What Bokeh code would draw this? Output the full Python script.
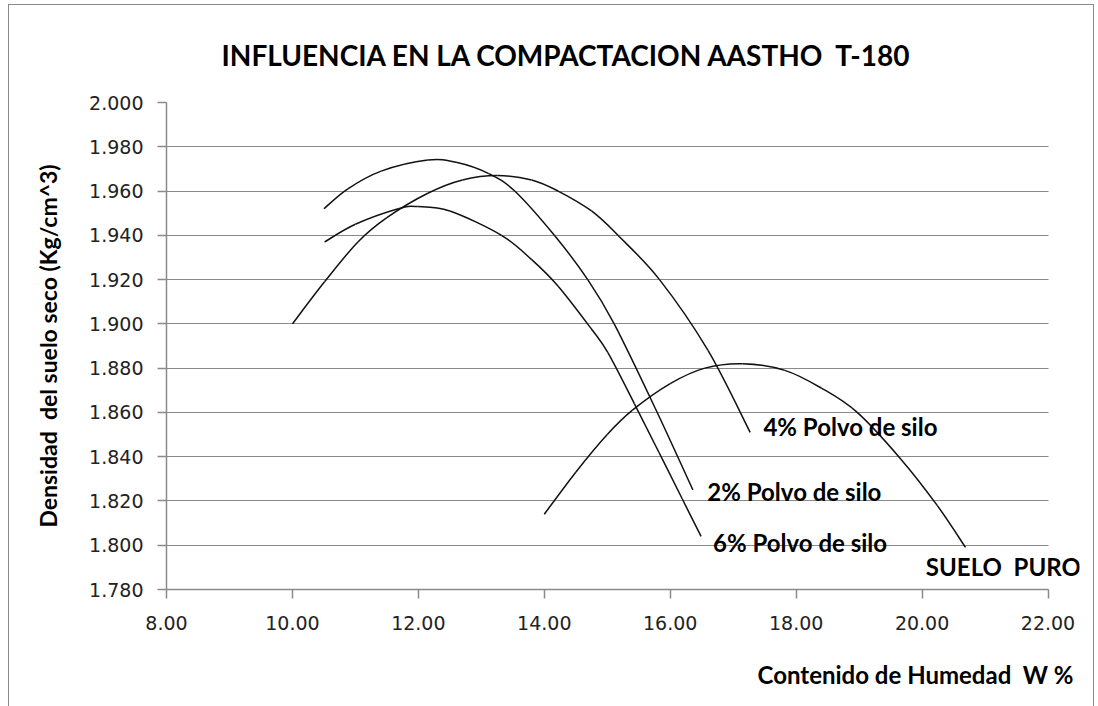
from bokeh.plotting import figure
from bokeh.models import FixedTicker, NumeralTickFormatter, Label, Range1d, Title
from bokeh.embed import file_html
from bokeh.resources import INLINE

# ---- data ----
x_2 = [10.50, 10.88, 11.41, 12.15, 12.60, 13.11, 13.53, 14.16, 14.69, 15.11, 15.76, 16.36]
y_2 = [1.952, 1.961, 1.969, 1.974, 1.973, 1.968, 1.960, 1.940, 1.920, 1.900, 1.862, 1.825]

x_4 = [10.00, 10.51, 11.04, 11.50, 12.15, 12.70, 13.26, 13.80, 14.22, 14.75, 15.17, 15.83, 16.60, 17.27]
y_4 = [1.900, 1.919, 1.937, 1.948, 1.959, 1.965, 1.967, 1.965, 1.960, 1.951, 1.940, 1.920, 1.888, 1.851]

x_6 = [10.51, 11.00, 11.68, 11.99, 12.50, 13.32, 13.80, 14.22, 14.74, 15.01, 15.43, 15.82, 16.19, 16.49]
y_6 = [1.937, 1.945, 1.952, 1.953, 1.951, 1.940, 1.929, 1.917, 1.898, 1.887, 1.864, 1.842, 1.821, 1.804]

x_puro = [14.00, 14.50, 15.00, 15.40, 16.00, 16.55, 17.15, 17.82, 18.40, 18.97, 19.66, 20.24, 20.69]
y_puro = [1.814, 1.833, 1.850, 1.861, 1.873, 1.880, 1.882, 1.879, 1.871, 1.860, 1.839, 1.818, 1.799]

NB = "\u00a0"
series_labels = ["2% Polvo de silo", "4% Polvo de silo", "6% Polvo de silo", "SUELO" + NB + NB + "PURO"]
x_ticks = [8, 10, 12, 14, 16, 18, 20, 22]
y_ticks = [1.78, 1.80, 1.82, 1.84, 1.86, 1.88, 1.90, 1.92, 1.94, 1.96, 1.98, 2.00]

title_text = "INFLUENCIA EN LA COMPACTACION AASTHO" + NB + NB + "T-180"
x_title = "Contenido de Humedad" + NB + NB + "W %"
y_title = "Densidad" + NB + NB + "del suelo seco (Kg/cm^3)"

FONT = "Lato"
TICK_FONT = "DejaVu Sans"

X0, X_AXIS_END, X1, Y0, Y1 = 8, 22, 22.5, 1.78, 2.0
FRAME_W, FRAME_H = 913, 487

p = figure(width=1084, height=702, output_backend="svg", toolbar_location=None,
           x_range=Range1d(X0, X1), y_range=Range1d(Y0, Y1),
           frame_width=FRAME_W, frame_height=FRAME_H,
           min_border_left=157, min_border_right=14, min_border_top=97, min_border_bottom=118)
p.styles = {"margin-left": "8px", "margin-top": "4px",
            "border-left": "1px solid #8a8a8a", "border-top": "1px solid #8a8a8a",
            "border-right": "1px solid #8a8a8a"}
p.outline_line_color = None
p.background_fill_color = "white"
p.border_fill_color = "white"

# horizontal gridlines, limited to the axis extent
p.xgrid.grid_line_color = None
try:
    p.ygrid.cross_bounds = (X0, X_AXIS_END)
    p.ygrid.grid_line_color = "#8a8a8a"
    p.ygrid.grid_line_width = 1.2
except AttributeError:
    p.ygrid.grid_line_color = None
    p.segment(x0=[X0] * len(y_ticks), x1=[X_AXIS_END] * len(y_ticks), y0=y_ticks, y1=y_ticks,
              line_color="#8a8a8a", line_width=1.2)


def smooth_segments(xs, ys):
    """Bezier control points (Catmull-Rom) so the line is drawn smoothed, like the source chart."""
    n = len(xs)
    seg = dict(x0=[], y0=[], x1=[], y1=[], cx0=[], cy0=[], cx1=[], cy1=[])
    for i in range(n - 1):
        i0 = max(i - 1, 0)
        i3 = min(i + 2, n - 1)
        seg["x0"].append(xs[i]); seg["y0"].append(ys[i])
        seg["x1"].append(xs[i + 1]); seg["y1"].append(ys[i + 1])
        seg["cx0"].append(xs[i] + (xs[i + 1] - xs[i0]) / 6.0)
        seg["cy0"].append(ys[i] + (ys[i + 1] - ys[i0]) / 6.0)
        seg["cx1"].append(xs[i + 1] - (xs[i3] - xs[i]) / 6.0)
        seg["cy1"].append(ys[i + 1] - (ys[i3] - ys[i]) / 6.0)
    return seg


for xs, ys in [(x_2, y_2), (x_4, y_4), (x_6, y_6), (x_puro, y_puro)]:
    s = smooth_segments(xs, ys)
    p.bezier(x0=s["x0"], y0=s["y0"], x1=s["x1"], y1=s["y1"],
             cx0=s["cx0"], cy0=s["cy0"], cx1=s["cx1"], cy1=s["cy1"],
             line_color="#111111", line_width=1.5)

# axes
p.xaxis.ticker = FixedTicker(ticks=x_ticks)
p.yaxis.ticker = FixedTicker(ticks=y_ticks)
p.xaxis.bounds = (X0, X_AXIS_END)
p.xaxis.formatter = NumeralTickFormatter(format="0.00")
p.yaxis.formatter = NumeralTickFormatter(format="0.000")
for ax in (p.xaxis, p.yaxis):
    ax.axis_line_color = "#8a8a8a"
    ax.axis_line_width = 1.5
    ax.major_tick_line_color = "#8a8a8a"
    ax.major_tick_line_width = 1.5
    ax.minor_tick_line_color = None
    ax.major_tick_in = 0
    ax.major_tick_out = 9
    ax.major_label_text_font = TICK_FONT
    ax.major_label_text_font_size = "19px"
    ax.major_label_text_color = "#222222"
p.xaxis.major_label_standoff = 17
p.yaxis.major_label_standoff = 14

p.yaxis.axis_label = y_title
p.yaxis.axis_label_text_font = FONT
p.yaxis.axis_label_text_font_style = "bold"
p.yaxis.axis_label_text_font_size = "23px"
p.yaxis.axis_label_text_color = "black"
p.yaxis.axis_label_standoff = 24

# x axis title, right aligned below the axis
p.add_layout(Title(text=x_title, align="right", offset=6, text_font=FONT,
                   text_font_style="bold", text_font_size="24px", text_color="black",
                   standoff=51), "below")

# curve labels
label_pos = [(16.59, 1.8244), (17.48, 1.8537), (16.68, 1.8013), (20.06, 1.7905)]
for txt, (lx, ly) in zip(series_labels, label_pos):
    p.add_layout(Label(x=lx, y=ly, text=txt,
                       text_font=FONT, text_font_style="bold",
                       text_font_size="24px", text_color="black", text_baseline="middle",
                       text_align="left"))

# title
p.title = Title(text=title_text, align="left", offset=55, vertical_align="top",
                text_font=FONT, text_font_style="bold",
                text_font_size="28px", text_color="black", standoff=58)

open("out.html", "w").write(file_html(p, INLINE))
